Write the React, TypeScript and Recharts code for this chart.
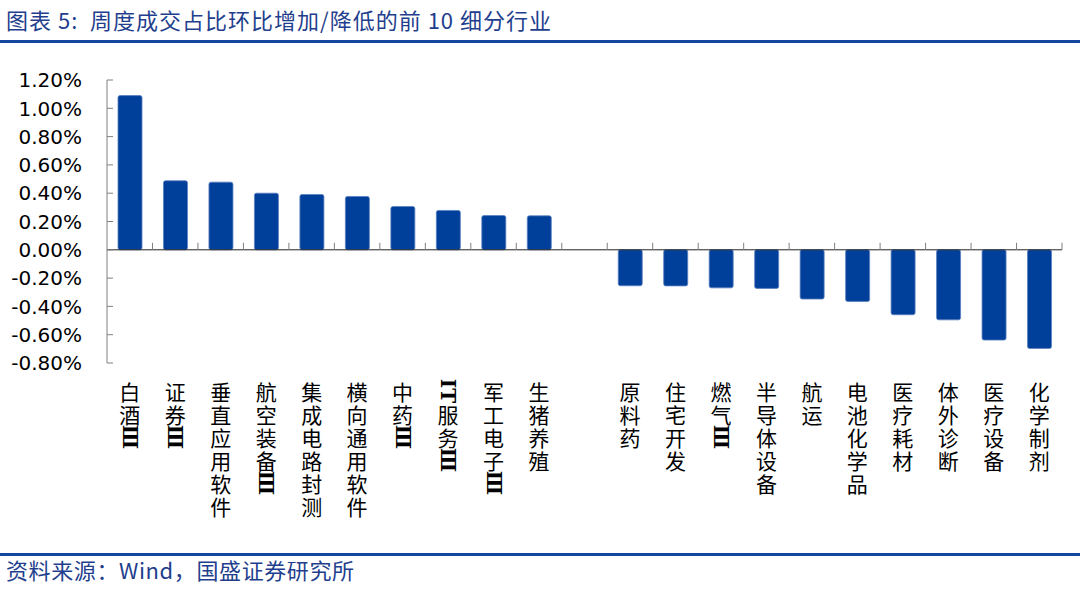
import React from 'react';
import { BarChart, Bar, XAxis, YAxis, ReferenceLine } from 'recharts';

const categories = [
  '白酒Ⅲ', '证券Ⅲ', '垂直应用软件', '航空装备Ⅲ', '集成电路封测', '横向通用软件', '中药Ⅲ', 'IT服务Ⅲ', '军工电子Ⅲ', '生猪养殖',
  '',
  '原料药', '住宅开发', '燃气Ⅲ', '半导体设备', '航运', '电池化学品', '医疗耗材', '体外诊断', '医疗设备', '化学制剂',
];

const values: (number | null)[] = [
  1.09, 0.488, 0.478, 0.4, 0.391, 0.377, 0.306, 0.278, 0.242, 0.24,
  null,
  -0.254, -0.255, -0.269, -0.273, -0.348, -0.365, -0.459, -0.495, -0.638, -0.697,
];

const yTicks = [-0.8, -0.6, -0.4, -0.2, 0, 0.2, 0.4, 0.6, 0.8, 1.0, 1.2];

const titleText = '图表 5:  周度成交占比环比增加/降低的前 10 细分行业';
const sourceText = '资料来源：Wind，国盛证券研究所';

const data = categories.map((name, i) => ({ name, value: values[i] }));

const BLUE = '#00409a';
const LINE_BLUE = '#1547a0';
const TITLE_BLUE = '#1f3f8e';

// split label into slots: runs of latin / roman numerals are set sideways
function splitSlots(label: string): { text: string; rotate: boolean }[] {
  const slots: { text: string; rotate: boolean }[] = [];
  const re = /[A-Za-z\u2160-\u2188]+/y;
  let i = 0;
  while (i < label.length) {
    re.lastIndex = i;
    const m = re.exec(label);
    if (m) {
      slots.push({ text: m[0], rotate: true });
      i += m[0].length;
    } else {
      slots.push({ text: label[i], rotate: false });
      i += 1;
    }
  }
  return slots;
}

const XTick = (props: any) => {
  const { x, y, payload } = props;
  const label: string = payload?.value ?? '';
  if (!label) return null;
  const slots = splitSlots(label);
  const pitch = 23;
  const first = y + 28;
  return (
    <g>
      {slots.map((s, i) => {
        const cy = first + i * pitch;
        return (
          <text
            key={i}
            x={x}
            y={cy}
            textAnchor="middle"
            dominantBaseline="central"
            fontSize={s.rotate ? 20 : 21}
            fontWeight={s.rotate ? 700 : 400}
            fontFamily={s.rotate ? "'DejaVu Serif', 'Liberation Serif', serif" : "'Noto Sans CJK SC', sans-serif"}
            fill="#000"
            transform={s.rotate ? `rotate(90, ${x}, ${cy})` : undefined}
          >
            {s.text}
          </text>
        );
      })}
    </g>
  );
};

const YTick = (props: any) => {
  const { x, y, payload } = props;
  const v = Number(payload?.value ?? 0);
  return (
    <g>
      <line x1={x} y1={y} x2={x + 6} y2={y} stroke="#808080" strokeWidth={1} />
      <text
        x={x - 25}
        y={y}
        dy="0.36em"
        textAnchor="end"
        fontSize={20}
        fontFamily="'DejaVu Sans', sans-serif"
        fill="#000"
      >
        {v.toFixed(2) + '%'}
      </text>
    </g>
  );
};

const ZeroLine = (props: any) => {
  const { x1, y1, x2 } = props;
  const n = categories.length;
  const step = (x2 - x1) / n;
  const ticks = [];
  for (let i = 1; i <= n; i++) {
    const tx = x1 + i * step;
    ticks.push(<line key={i} x1={tx} y1={y1 - 7} x2={tx} y2={y1} stroke="#808080" strokeWidth={1} />);
  }
  return (
    <g>
      <line x1={x1} y1={y1} x2={x2} y2={y1} stroke="#222" strokeWidth={1} />
      {ticks}
    </g>
  );
};

export default function App() {
  return (
    <div
      style={{
        position: 'absolute',
        left: 0,
        top: 0,
        width: 1080,
        height: 590,
        background: '#fff',
        overflow: 'hidden',
      }}
    >
      <div
        style={{
          position: 'absolute',
          left: 6,
          top: 6,
          fontSize: 22,
          lineHeight: '26px',
          letterSpacing: '1px',
          color: TITLE_BLUE,
          fontFamily: "'Noto Sans CJK SC', sans-serif",
          whiteSpace: 'pre',
        }}
      >
        {titleText}
      </div>
      <div style={{ position: 'absolute', left: 0, top: 40, width: 1080, height: 3, background: LINE_BLUE }} />
      <div style={{ position: 'absolute', left: 0, top: 0 }}>
        <BarChart
          width={1080}
          height={590}
          data={data}
          margin={{ top: 80, right: 18, bottom: 0, left: 0 }}
        >
          <XAxis
            dataKey="name"
            type="category"
            interval={0}
            height={227}
            axisLine={false}
            tickLine={false}
            tickSize={0}
            tickMargin={0}
            tick={<XTick />}
          />
          <YAxis
            type="number"
            domain={[-0.8, 1.2]}
            ticks={yTicks}
            width={107}
            axisLine={{ stroke: '#808080', strokeWidth: 1 }}
            tickLine={false}
            tickSize={0}
            tickMargin={0}
            tick={<YTick />}
            allowDataOverflow
          />
          <Bar
            dataKey="value"
            fill={BLUE}
            stroke="#5a7fc0"
            strokeWidth={0.8}
            barSize={24}
            radius={2}
            isAnimationActive={false}
          />
          <ReferenceLine y={0} shape={(p: any) => <ZeroLine {...p} />} />
        </BarChart>
      </div>
      <div style={{ position: 'absolute', left: 0, top: 553, width: 1080, height: 3, background: LINE_BLUE }} />
      <div
        style={{
          position: 'absolute',
          left: 6,
          top: 555,
          fontSize: 22,
          lineHeight: '28px',
          letterSpacing: '0.6px',
          color: TITLE_BLUE,
          fontFamily: "'Noto Sans CJK SC', sans-serif",
          whiteSpace: 'pre',
        }}
      >
        {sourceText}
      </div>
    </div>
  );
}
